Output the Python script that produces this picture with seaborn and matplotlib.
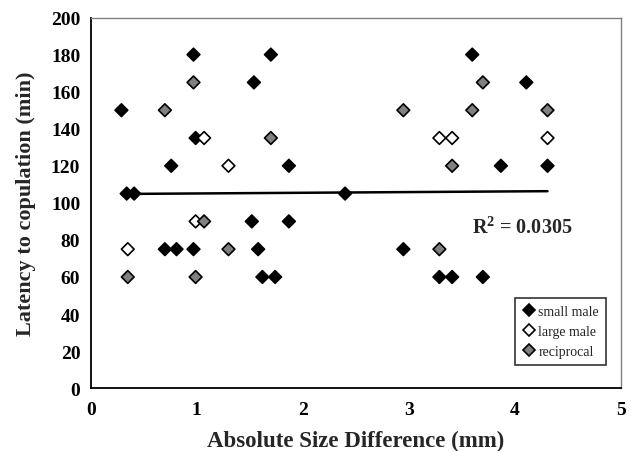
import matplotlib
matplotlib.use('Agg')
import matplotlib.pyplot as plt
import seaborn as sns
import pandas as pd

# small male (black diamonds)
small_x = [0.29, 0.34, 0.41, 0.76, 0.97, 0.99, 1.54, 1.70, 1.87, 2.40, 3.60, 4.11, 3.87, 4.31,
           0.70, 0.81, 0.97, 1.52, 1.87, 1.58, 1.62, 1.74, 2.95, 3.29, 3.41, 3.70]
small_y = [150, 105, 105, 120, 180, 135, 165, 180, 120, 105, 180, 165, 120, 120,
           75, 75, 75, 90, 90, 75, 60, 60, 75, 60, 60, 60]

# large male (white diamonds)
large_x = [0.35, 0.99, 1.07, 1.30, 3.29, 3.41, 4.31]
large_y = [75, 90, 135, 120, 135, 135, 135]

# reciprocal (grey diamonds)
recip_x = [0.70, 0.97, 1.70, 1.07, 1.30, 0.35, 0.99, 2.95, 3.60, 3.70, 4.31, 3.41, 3.29]
recip_y = [150, 165, 135, 90, 75, 60, 60, 150, 150, 165, 150, 120, 75]

# linear trendline as shown in the figure
trend_x = [0.29, 4.31]
trend_y = [104.8, 106.3]
r2_label = "R$^{\\mathbf{2}}$ = 0.0305"

df = pd.DataFrame({
    'x': small_x + large_x + recip_x,
    'y': small_y + large_y + recip_y,
    'group': ['small male'] * len(small_x) + ['large male'] * len(large_x)
             + ['reciprocal'] * len(recip_x),
})

sns.set_style("white")
plt.rcParams['font.family'] = ['Liberation Serif', 'DejaVu Serif']
plt.rcParams['mathtext.fontset'] = 'custom'
plt.rcParams['mathtext.rm'] = 'Liberation Serif:bold'
plt.rcParams['mathtext.bf'] = 'Liberation Serif:bold'

fig = plt.figure(figsize=(6.31, 4.52), dpi=100)
ax = fig.add_axes([0.1437, 0.139, 0.8399, 0.820])

ax.plot(trend_x, trend_y, color='black', lw=1.8, zorder=1)

palette = {'small male': 'black', 'large male': 'white', 'reciprocal': '#808080'}
sns.scatterplot(data=df, x='x', y='y', hue='group', palette=palette, marker='D',
                s=42, edgecolor='black', linewidth=1.2, ax=ax, zorder=3,
                hue_order=['small male', 'large male', 'reciprocal'])

ax.set_xlim(0, 5)
ax.set_ylim(0, 200)
ax.set_xticks(range(0, 6))
ax.set_yticks(range(0, 201, 20))
ax.tick_params(direction='out', length=4, width=1, colors='black', labelsize=14)
for lab in ax.get_xticklabels() + ax.get_yticklabels():
    lab.set_fontweight('bold')
ax.tick_params(axis='x', pad=5)

for side in ['left', 'bottom']:
    ax.spines[side].set_color('black')
    ax.spines[side].set_linewidth(1.3)
for side in ['top', 'right']:
    ax.spines[side].set_color('#808080')
    ax.spines[side].set_linewidth(1.0)

ax.set_xlabel('Absolute Size Difference (mm)', fontsize=16.5, fontweight='bold', labelpad=9)
ax.set_ylabel('Latency to copulation (min)', fontsize=16, fontweight='bold', labelpad=11)

ax.text(3.6, 87, r2_label, fontsize=14.5, fontweight='bold', ha='left', va='center')

leg = ax.legend(loc='lower right', bbox_to_anchor=(0.972, 0.063), frameon=True,
                fancybox=False, edgecolor='black', fontsize=10, handletextpad=0.25,
                borderpad=0.5, labelspacing=0.5, borderaxespad=0, handlelength=0.9)
leg.get_frame().set_linewidth(1.2)

fig.savefig('out.png', dpi=100)
